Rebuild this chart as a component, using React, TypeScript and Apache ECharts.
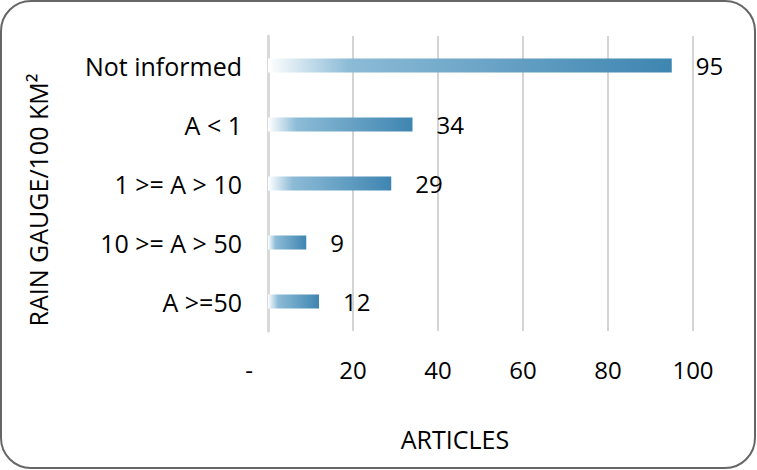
import React, { useEffect, useRef } from "react";
import * as echarts from "echarts";

const categories = ["Not informed", "A < 1", "1 >= A > 10", "10 >= A > 50", "A >=50"];
const values = [95, 34, 29, 9, 12];
const xTicks = [0, 20, 40, 60, 80, 100];

const FONT = "'Open Sans', sans-serif";
const FS = 24;
const FS_CAT = 25;

export default function App() {
  const ref = useRef<HTMLDivElement>(null);
  useEffect(() => {
    document.body.style.margin = "0";
    const chart = echarts.init(ref.current!, null, { renderer: "svg" });
    const grad = new echarts.graphic.LinearGradient(0, 0, 1, 0, [
      { offset: 0, color: "#ffffff" },
      { offset: 0.2, color: "#8cbbd6" },
      { offset: 1, color: "#3e85b1" },
    ]);
    chart.setOption({
      animation: false,
      backgroundColor: "#ffffff",
      grid: { left: 268, right: 64, top: 36, bottom: 139, containLabel: false },
      xAxis: {
        type: "value",
        min: xTicks[0],
        max: xTicks[xTicks.length - 1],
        interval: 20,
        axisLine: { show: false },
        axisTick: { show: false },
        splitLine: { lineStyle: { color: "#d4d4d4", width: 2 } },
        axisLabel: {
          margin: 26,
          color: "#000",
          fontFamily: FONT,
          fontSize: FS,
          formatter: (v: number) => (v === 0 ? "{z|-}" : String(v)),
          rich: { z: { fontFamily: FONT, fontSize: FS, color: "#000", padding: [0, 38, 0, 0] } },
        },
      },
      yAxis: {
        type: "category",
        data: categories,
        inverse: true,
        axisLine: { show: true, lineStyle: { color: "#d9d9d9", width: 3 } },
        axisTick: { show: false },
        axisLabel: { margin: 26, color: "#000", fontFamily: FONT, fontSize: FS_CAT },
      },
      series: [
        {
          type: "bar",
          data: values,
          barWidth: 14,
          itemStyle: { color: grad },
          label: {
            show: true,
            position: "right",
            distance: 24,
            color: "#000",
            fontFamily: FONT,
            fontSize: FS,
          },
        },
      ],
      graphic: [
        {
          type: "rect",
          shape: { x: 1, y: 1, width: 754, height: 467, r: 30 },
          style: { fill: "none", stroke: "#666666", lineWidth: 2 },
          silent: true,
        },
        {
          type: "text",
          x: 38,
          y: 200,
          rotation: Math.PI / 2,
          style: {
            text: "RAIN GAUGE/100 KM²",
            fontFamily: FONT,
            fontSize: FS_CAT,
            fill: "#000",
            align: "center",
            verticalAlign: "middle",
          },
        },
        {
          type: "text",
          x: 455,
          y: 439,
          style: {
            text: "ARTICLES",
            fontFamily: FONT,
            fontSize: FS_CAT,
            fill: "#000",
            align: "center",
            verticalAlign: "middle",
          },
        },
      ],
    });
    return () => chart.dispose();
  }, []);
  return <div ref={ref} style={{ width: 757, height: 470 }} />;
}
